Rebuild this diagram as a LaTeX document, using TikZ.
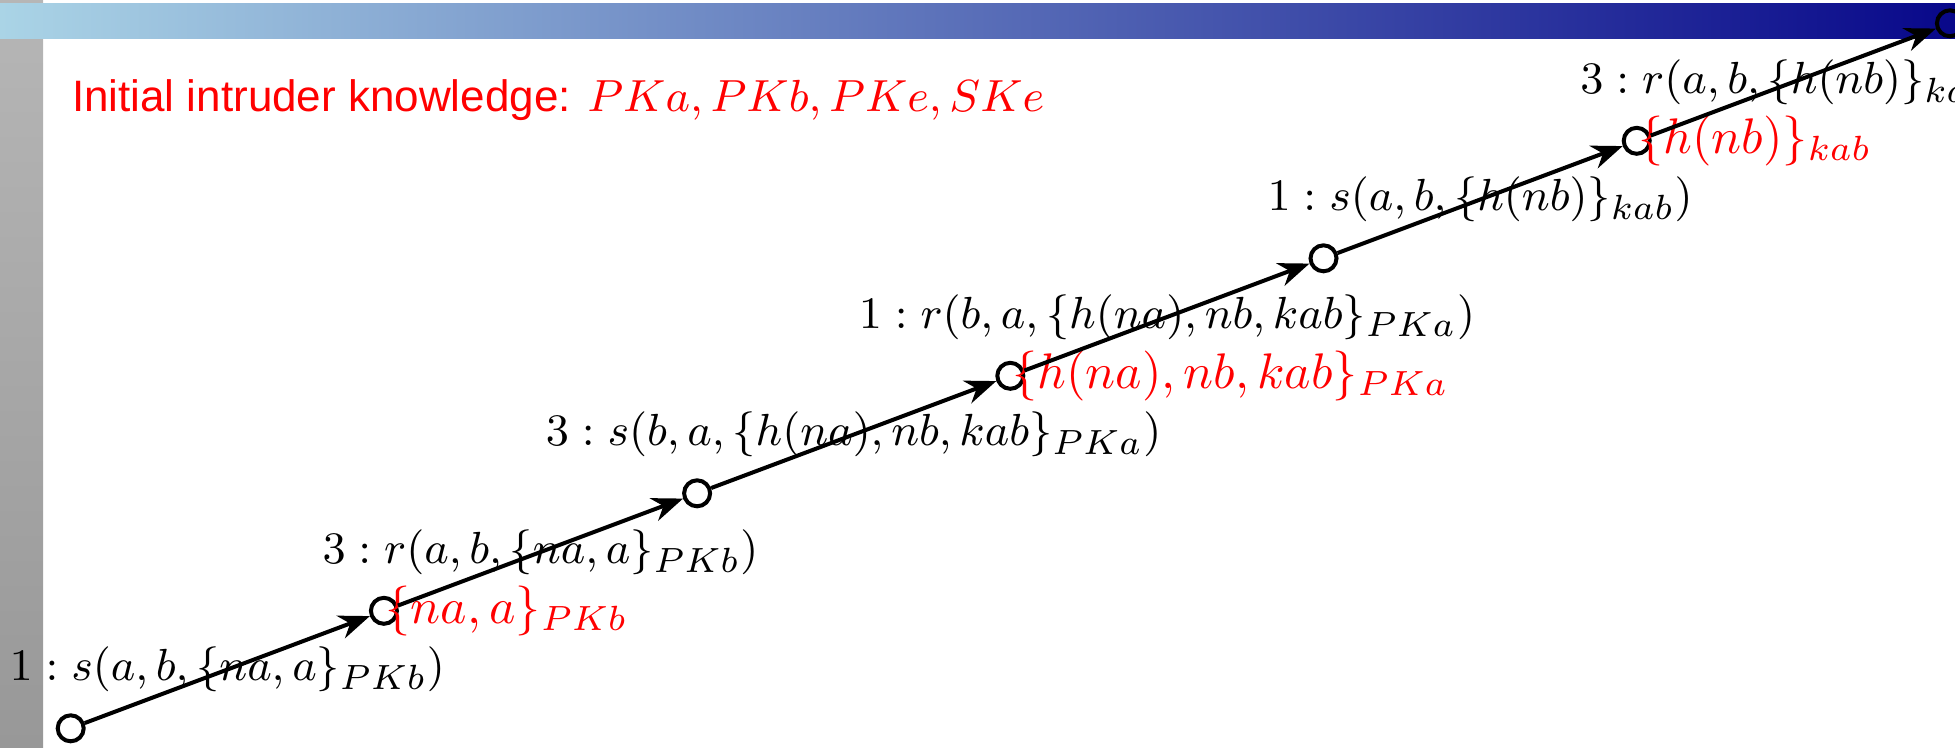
\documentclass[tikz,border=0pt]{standalone}
\usepackage{fontspec}
\newfontfamily\titlefont{Liberation Sans}
\usetikzlibrary{arrows.meta}
\definecolor{barL}{RGB}{170,212,230}
\definecolor{barR}{RGB}{8,8,138}
\definecolor{grayT}{RGB}{182,182,182}
\definecolor{grayB}{RGB}{152,152,152}
\begin{document}
\begin{tikzpicture}[x=0.2pt,y=-0.2pt,
  state/.style={circle,draw=black,line width=0.8pt,minimum size=5.2pt,inner sep=0pt},
  msg/.style={-{Stealth[length=6.2pt,width=4.8pt,inset=2pt]},line width=0.8pt},
  lbl/.style={font=\fontsize{9.5}{11}\selectfont,inner sep=0pt},
  knows/.style={text=red,anchor=west,inner sep=0pt,font=\fontsize{9.8}{11}\selectfont}]
\useasboundingbox (0,0) rectangle (1955,747);
\clip (0,0) rectangle (1955,747);
\shade[top color=grayT,bottom color=grayB] (0,0) rectangle (43,747);
\shade[left color=barL,right color=barR] (0,3) rectangle (1955,38);
\node[text=red,anchor=base west,inner sep=0pt] (title) at (71,111.7)
  {{\titlefont\fontsize{8.8}{10}\selectfont Initial intruder knowledge: }{\fontsize{9.2}{11}\selectfont$PKa, PKb, PKe, SKe$}};
\node[state] (c1) at (70.7,728.3) {};
\node[state] (c2) at (383.9,610.8) {};
\node[state] (c3) at (697.1,493.3) {};
\node[state] (c4) at (1010.3,375.8) {};
\node[state] (c5) at (1323.5,258.3) {};
\node[state] (c6) at (1636.7,140.8) {};
\node[state] (c7) at (1949.9,23.3) {};
\node[knows] (k2) at ([xshift=0.2pt]c2.center) {$\{na,a\}_{PKb}$};
\node[knows] (k4) at ([xshift=0.2pt]c4.center) {$\{h(na),nb,kab\}_{PKa}$};
\node[knows] (k6) at ([xshift=0.2pt]c6.center) {$\{h(nb)\}_{kab}$};
\draw[msg] (c1) -- node[lbl] {$1 : s(a,b,\{na,a\}_{PKb})$} (c2);
\draw[msg] (c2) -- node[lbl] {$3 : r(a,b,\{na,a\}_{PKb})$} (c3);
\draw[msg] (c3) -- node[lbl] {$3 : s(b,a,\{h(na),nb,kab\}_{PKa})$} (c4);
\draw[msg] (c4) -- node[lbl] {$1 : r(b,a,\{h(na),nb,kab\}_{PKa})$} (c5);
\draw[msg] (c5) -- node[lbl] {$1 : s(a,b,\{h(nb)\}_{kab})$} (c6);
\draw[msg] (c6) -- node[lbl] {$3 : r(a,b,\{h(nb)\}_{kab})$} (c7);
\end{tikzpicture}
\end{document}
